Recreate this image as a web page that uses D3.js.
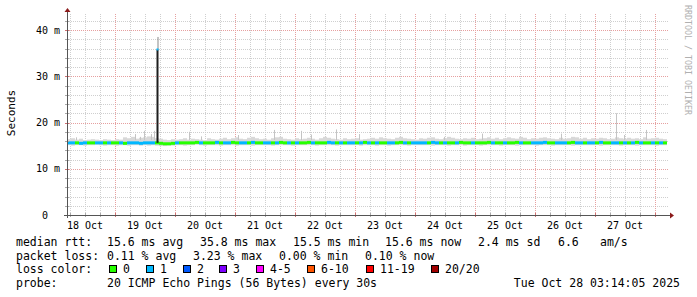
<!DOCTYPE html>
<html>
<head>
<meta charset="utf-8">
<script src="https://cdn.jsdelivr.net/npm/d3@7"></script>
<style>
  html, body { margin: 0; padding: 0; background: #fff; }
  svg text { font-family: "DejaVu Sans Mono", monospace; }
</style>
</head>
<body>
<script>
// ---- data ----
var startTime = new Date(Date.UTC(2025, 9, 18, 4, 48));   // left edge of graph
var endTime   = new Date(Date.UTC(2025, 9, 28, 4, 48));   // right edge
var stepMinutes = 96;                                      // one sample column

// loss per sample: 0 = no loss, 1 = 1/20 lost
var lossCodes =
  "1101100110" + "1001011111" + "1100000100" + "00010001" +
  "0110011010" + "0110100101" + "0001000110" + "1011010101" +
  "0011001011" + "1101101001" + "0001000010" + "0100010011" +
  "1100111001" + "1011010011" + "010101001010";

// median rtt in ms per sample
var medianMs = [
  15.6,15.6,15.6,15.5,15.6,15.6,15.6,15.6,15.6,15.6,
  15.6,15.6,15.6,15.6,15.5,15.6,15.6,15.6,15.5,15.6,
  15.6,15.6,15.6,15.5,15.4,15.4,15.5,15.6,15.6,15.6,
  15.6,15.6,15.7,15.6,15.6,15.6,15.6,15.7,15.6,15.6,
  15.6,15.7,15.6,15.6,15.6,15.6,15.7,15.6,15.6,15.6,
  15.6,15.6,15.6,15.7,15.6,15.6,15.6,15.6,15.6,15.6,
  15.7,15.6,15.6,15.6,15.6,15.7,15.6,15.6,15.6,15.6,
  15.6,15.6,15.6,15.6,15.7,15.6,15.6,15.6,15.6,15.6,
  15.6,15.6,15.6,15.7,15.6,15.6,15.6,15.6,15.6,15.6,
  15.6,15.7,15.6,15.6,15.6,15.6,15.6,15.6,15.7,15.6,
  15.6,15.6,15.6,15.6,15.6,15.7,15.6,15.6,15.6,15.6,
  15.6,15.6,15.7,15.6,15.6,15.6,15.6,15.6,15.6,15.7,
  15.6,15.6,15.6,15.6,15.6,15.6,15.7,15.6,15.6,15.6,
  15.6,15.6,15.6,15.7,15.6,15.6,15.6,15.6,15.6,15.6,
  15.6,15.6,15.7,15.6,15.6,15.6,15.6,15.6,15.6,15.6
];

// top and bottom of the ping "smoke" per sample
var smokeHi = [
  16.4,16.6,16.3,16.5,16.2,16.3,16.4,16.3,16.2,16.4,
  16.3,16.2,16.4,16.3,16.8,16.6,16.9,16.5,16.7,16.8,
  17.0,16.9,16.6,16.5,16.3,16.2,16.4,16.3,16.4,16.6,
  16.3,16.5,16.4,16.3,16.2,16.6,16.4,16.3,16.5,16.7,
  16.4,16.6,16.8,16.5,16.4,16.7,16.9,16.6,16.4,16.5,
  16.3,16.6,16.8,16.9,16.5,16.4,16.3,16.6,16.4,16.5,
  16.7,16.5,16.3,16.6,16.9,16.7,16.5,16.4,16.3,16.6,
  16.4,16.5,16.6,16.3,16.4,16.5,16.7,16.5,16.8,16.6,
  16.5,16.4,16.7,16.9,16.6,16.5,16.4,16.3,16.6,16.5,
  16.7,16.8,16.5,16.4,16.6,16.9,16.7,16.5,16.4,16.6,
  16.5,16.7,16.4,16.5,16.6,16.8,16.5,16.7,16.4,16.6,
  16.8,16.6,16.5,16.9,16.7,16.4,16.6,16.5,16.7,16.8,
  16.6,16.5,16.4,16.7,16.5,16.6,16.9,16.8,16.5,16.7,
  16.4,16.6,16.5,16.7,16.6,16.4,16.5,16.8,16.6,16.5,
  16.7,16.5,16.6,16.4,16.8,16.5,16.6,16.7,16.5,16.4
];
var smokeLo = [
  15.1,15.0,15.1,15.1,15.0,15.1,15.1,15.2,15.1,15.0,
  15.1,15.1,15.0,15.1,15.1,15.0,15.1,15.1,15.0,15.1,
  15.0,15.1,15.0,14.9,14.9,15.0,15.0,15.1,15.1,15.0,
  15.1,15.1,15.2,15.1,15.0,15.1,15.1,15.1,15.0,15.1,
  15.1,15.1,15.0,15.1,15.1,15.1,15.0,15.1,15.1,15.1,
  15.1,15.0,15.1,15.1,15.1,15.1,15.0,15.1,15.1,15.1,
  15.1,15.1,15.0,15.1,15.1,15.1,15.1,15.0,15.1,15.1,
  15.1,15.1,15.1,15.0,15.1,15.1,15.1,15.0,15.1,15.1,
  15.0,15.1,15.1,15.1,15.1,15.0,15.1,15.1,15.1,15.1,
  15.1,15.0,15.1,15.1,15.1,15.0,15.1,15.1,15.1,15.0,
  15.1,15.1,15.1,15.0,15.1,15.1,15.1,15.1,15.0,15.1,
  15.1,15.1,15.0,15.1,15.1,15.1,15.1,15.0,15.1,15.1,
  15.1,15.0,15.1,15.1,15.1,15.1,15.0,15.1,15.1,15.1,
  15.1,15.1,15.1,15.0,15.1,15.1,15.1,15.1,15.0,15.1,
  15.1,15.1,15.0,15.1,15.1,15.1,15.1,15.0,15.1,15.1
];

// single slow pings sticking out of the smoke [time, ms]
var smokeSpikes = [
  ["2025-10-18T08:24Z", 16.8], ["2025-10-19T08:00Z", 17.5], ["2025-10-19T10:00Z", 16.9],
  ["2025-10-19T11:36Z", 18.2], ["2025-10-19T14:24Z", 17.5], ["2025-10-19T15:36Z", 18.2],
  ["2025-10-20T05:36Z", 18.0], ["2025-10-20T10:24Z", 17.0], ["2025-10-21T01:12Z", 17.3],
  ["2025-10-21T15:36Z", 18.4], ["2025-10-22T02:24Z", 18.2], ["2025-10-22T06:24Z", 17.4],
  ["2025-10-22T16:24Z", 18.5], ["2025-10-23T01:36Z", 17.5], ["2025-10-24T11:36Z", 16.9],
  ["2025-10-25T02:48Z", 17.6], ["2025-10-26T10:24Z", 17.6], ["2025-10-27T08:24Z", 22.0],
  ["2025-10-27T11:36Z", 17.3], ["2025-10-27T20:24Z", 18.4]
];

// the one big jump of the median
var peakEvents = [
  { time: "2025-10-19T16:48Z", base: 15.6, median: 35.8, max: 38.5, loss: 1 }
];

var yMajorTicks = [0, 10, 20, 30, 40];
var yTickLabels = ["0", "10 m", "20 m", "30 m", "40 m"];
var dayLabels = ["18 Oct", "19 Oct", "20 Oct", "21 Oct", "22 Oct",
                 "23 Oct", "24 Oct", "25 Oct", "26 Oct", "27 Oct"];

var lossLabels = ["0", "1", "2", "3", "4-5", "6-10", "11-19", "20/20"];
var lossColors = ["#26ff00", "#00b8ff", "#0059ff", "#7e00ff",
                  "#ff00ff", "#ff5500", "#ff0000", "#a10000"];

var rttTexts  = ["median rtt:", "15.6 ms avg", "35.8 ms max", "15.5 ms min",
                 "15.6 ms now", "2.4 ms sd", "6.6", "am/s"];
var lossTexts = ["packet loss:", "0.11 % avg", "3.23 % max", "0.00 % min", "0.10 % now"];
var probeTexts = ["probe:", "20 ICMP Echo Pings (56 Bytes) every 30s"];
var stampText = "Tue Oct 28 03:14:05 2025";

// ---- layout ----
var width = 697, height = 297;
var L = 67, R = 667, T = 13, B = 215;
var rttCols  = [16, 107, 200, 293, 385, 478, 558, 600];
var lossCols = [16, 107, 193, 279, 365];
var swatchCols = [109, 146, 183, 219, 256, 307, 366, 431];
var rowY = [246, 259.5, 273, 286.5];

var svg = d3.select("body").append("svg")
    .attr("width", width)
    .attr("height", height);

svg.append("rect").attr("width", width).attr("height", height).attr("fill", "#fff");

var x = d3.scaleUtc().domain([startTime, endTime]).range([L, R]);
var y = d3.scaleLinear().domain([0, 43.68]).range([B, T]);

function sampleTime(i) { return new Date(startTime.getTime() + i * stepMinutes * 60000); }

// grid
var grid = svg.append("g");
grid.selectAll(".yminor").data(y.ticks(22)).enter().append("line")
    .attr("x1", L).attr("x2", R + 1)
    .attr("y1", function(d){ return Math.round(y(d)) + 0.5; })
    .attr("y2", function(d){ return Math.round(y(d)) + 0.5; })
    .attr("stroke", "#cfcfcf").attr("stroke-dasharray", "1,1");
grid.selectAll(".xminor").data(d3.utcHour.every(6).range(startTime, endTime)).enter().append("line")
    .attr("x1", function(d){ return Math.round(x(d)) + 0.5; })
    .attr("x2", function(d){ return Math.round(x(d)) + 0.5; })
    .attr("y1", B).attr("y2", T)
    .attr("stroke", "#cfcfcf").attr("stroke-dasharray", "1,1");
grid.selectAll(".ymajor").data(yMajorTicks.slice(1)).enter().append("line")
    .attr("x1", L).attr("x2", R + 1)
    .attr("y1", function(d){ return Math.round(y(d)) + 0.5; })
    .attr("y2", function(d){ return Math.round(y(d)) + 0.5; })
    .attr("stroke", "#e6a0a0").attr("stroke-dasharray", "1,1");
grid.selectAll(".xmajor").data(d3.utcDay.range(startTime, endTime)).enter().append("line")
    .attr("x1", function(d){ return Math.round(x(d)) + 0.5; })
    .attr("x2", function(d){ return Math.round(x(d)) + 0.5; })
    .attr("y1", B).attr("y2", T)
    .attr("stroke", "#e6a0a0").attr("stroke-dasharray", "1,1");

// smoke
var samples = d3.range(medianMs.length);
svg.append("g").selectAll("rect").data(samples).enter().append("rect")
    .attr("x", function(i){ return x(sampleTime(i)); })
    .attr("width", function(i){ return x(sampleTime(i + 1)) - x(sampleTime(i)); })
    .attr("y", function(i){ return y(smokeHi[i]); })
    .attr("height", function(i){ return y(smokeLo[i]) - y(smokeHi[i]); })
    .attr("fill", "#d8d8d8");

svg.append("g").selectAll("rect").data(smokeSpikes).enter().append("rect")
    .attr("x", function(d){ return Math.round(x(new Date(d[0]))); })
    .attr("width", 1)
    .attr("y", function(d){ return y(d[1]); })
    .attr("height", function(d){ return y(16.2) - y(d[1]); })
    .attr("fill", "#c4c4c4");

// median line coloured by loss
svg.append("g").selectAll("rect").data(samples).enter().append("rect")
    .attr("x", function(i){ return x(sampleTime(i)); })
    .attr("width", function(i){ return x(sampleTime(i + 1)) - x(sampleTime(i)); })
    .attr("y", function(i){ return y(medianMs[i]) - 1.5; })
    .attr("height", 3)
    .attr("fill", function(i){ return lossColors[+lossCodes[i]]; });

// the peak
var peak = svg.append("g");
peak.selectAll(".pmax").data(peakEvents).enter().append("rect")
    .attr("x", function(d){ return Math.round(x(new Date(d.time))) + 0.5; })
    .attr("width", 1)
    .attr("y", function(d){ return y(d.max); })
    .attr("height", function(d){ return y(d.median) - y(d.max); })
    .attr("fill", "#8a8a8a");
peak.selectAll(".pbar").data(peakEvents).enter().append("rect")
    .attr("x", function(d){ return Math.round(x(new Date(d.time))) - 0.5; })
    .attr("width", 2)
    .attr("y", function(d){ return y(d.median); })
    .attr("height", function(d){ return y(d.base) - y(d.median); })
    .attr("fill", "#1e1e1e");
peak.selectAll(".ptop").data(peakEvents).enter().append("rect")
    .attr("x", function(d){ return Math.round(x(new Date(d.time))) - 0.5; })
    .attr("width", 2)
    .attr("y", function(d){ return y(d.median) - 1; })
    .attr("height", 2)
    .attr("fill", function(d){ return lossColors[d.loss]; });

// axes
var ax = svg.append("g");
ax.selectAll(".xt").data(d3.utcHour.every(6).range(startTime, endTime)).enter().append("line")
    .attr("x1", function(d){ return Math.round(x(d)) + 0.5; })
    .attr("x2", function(d){ return Math.round(x(d)) + 0.5; })
    .attr("y1", B - 2).attr("y2", B + 2)
    .attr("stroke", function(d){ return d.getUTCHours() === 0 ? "#d07070" : "#aaaaaa"; });
ax.selectAll(".yt").data(y.ticks(22)).enter().append("line")
    .attr("x1", L - 2).attr("x2", L + 2)
    .attr("y1", function(d){ return Math.round(y(d)) + 0.5; })
    .attr("y2", function(d){ return Math.round(y(d)) + 0.5; })
    .attr("stroke", function(d){ return d % 10 === 0 ? "#d07070" : "#aaaaaa"; });
ax.append("line").attr("x1", L - 3).attr("x2", R + 3).attr("y1", B + 0.5).attr("y2", B + 0.5)
    .attr("stroke", "#555");
ax.append("line").attr("x1", L + 0.5).attr("x2", L + 0.5).attr("y1", B + 3).attr("y2", T - 2)
    .attr("stroke", "#555");
ax.append("path").attr("d", "M" + (R + 3) + "," + (B - 2.5) + "L" + (R + 7) + "," + (B + 0.5) + "L" + (R + 3) + "," + (B + 3.5) + "Z")
    .attr("fill", "#8b1a1a");
ax.append("path").attr("d", "M" + (L - 2.5) + "," + (T - 1) + "L" + (L + 0.5) + "," + (T - 5) + "L" + (L + 3.5) + "," + (T - 1) + "Z")
    .attr("fill", "#8b1a1a");

ax.selectAll(".yl").data(yMajorTicks).enter().append("text")
    .attr("x", function(d){ return d === 0 ? 48 : 60; })
    .attr("y", function(d){ return y(d) + 3.5; })
    .attr("text-anchor", "end")
    .attr("font-size", "10px").attr("fill", "#000")
    .text(function(d, i){ return yTickLabels[i]; });

ax.selectAll(".xl").data(dayLabels).enter().append("text")
    .attr("x", function(d, i){ return x(new Date(Date.UTC(2025, 9, 18 + i, 12))); })
    .attr("y", 229)
    .attr("text-anchor", "middle")
    .attr("font-size", "10px").attr("fill", "#000")
    .text(function(d){ return d; });

svg.append("text")
    .attr("transform", "translate(15,113) rotate(-90)")
    .attr("text-anchor", "middle")
    .attr("font-size", "11px").attr("fill", "#000")
    .text("Seconds");

svg.append("text")
    .attr("transform", "translate(685,5) rotate(90)")
    .attr("font-size", "8.3px").attr("fill", "#b0b0b0")
    .text("RRDTOOL / TOBI OETIKER");

// legend
var lg = svg.append("g").attr("font-size", "11.5px").attr("fill", "#000");
lg.selectAll(".r1").data(rttTexts).enter().append("text")
    .attr("x", function(d, i){ return rttCols[i]; }).attr("y", rowY[0])
    .text(function(d){ return d; });
lg.selectAll(".r2").data(lossTexts).enter().append("text")
    .attr("x", function(d, i){ return lossCols[i]; }).attr("y", rowY[1])
    .text(function(d){ return d; });
lg.append("text").attr("x", 16).attr("y", rowY[2]).text("loss color:");
lg.selectAll(".sw").data(lossColors).enter().append("rect")
    .attr("x", function(d, i){ return swatchCols[i] + 0.5; }).attr("y", rowY[2] - 7.5)
    .attr("width", 7).attr("height", 7)
    .attr("fill", function(d){ return d; })
    .attr("stroke", "#000");
lg.selectAll(".sl").data(lossLabels).enter().append("text")
    .attr("x", function(d, i){ return swatchCols[i] + 14; }).attr("y", rowY[2])
    .text(function(d){ return d; });
lg.selectAll(".r4").data(probeTexts).enter().append("text")
    .attr("x", function(d, i){ return [16, 107][i]; }).attr("y", rowY[3])
    .text(function(d){ return d; });
lg.append("text").attr("x", 680).attr("y", rowY[3]).attr("text-anchor", "end").text(stampText);
</script>
</body>
</html>
